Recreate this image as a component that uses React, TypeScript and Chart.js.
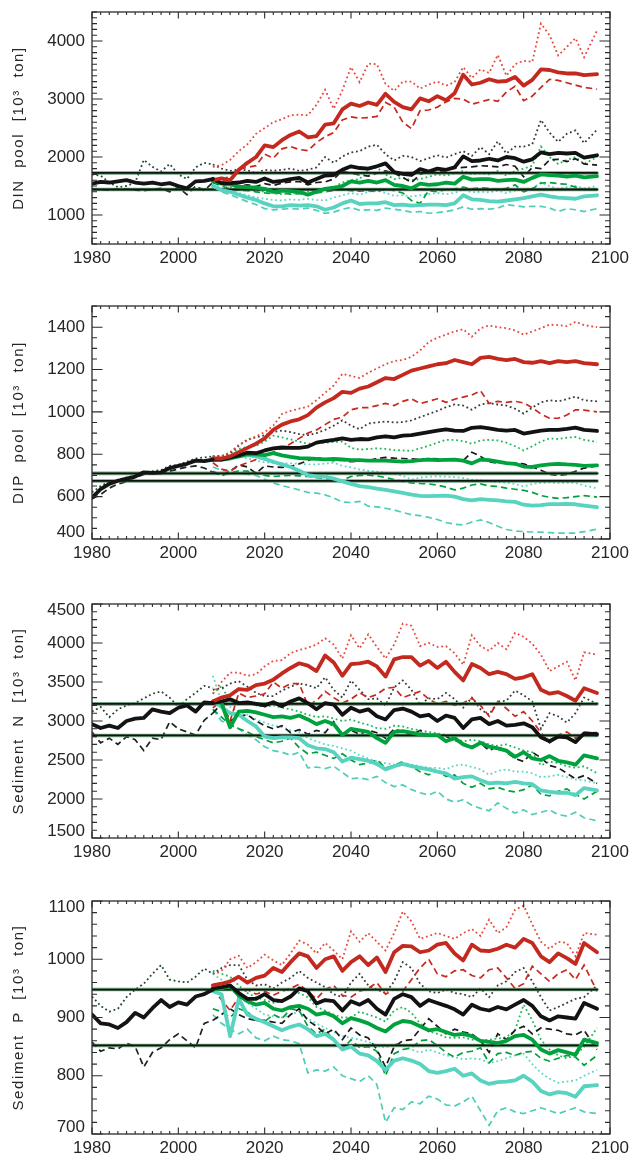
import React, { useEffect, useRef } from "react";
import { Chart, registerables } from "chart.js";

Chart.register(...registerables);

// ---------------- data ----------------
const histYears = [1980, 1982, 1984, 1986, 1988, 1990, 1992, 1994, 1996, 1998, 2000, 2002, 2004, 2006, 2008];
const scenYears = [
  2008, 2010, 2012, 2014, 2016, 2018, 2020, 2022, 2024, 2026, 2028, 2030, 2032, 2034, 2036,
  2038, 2040, 2042, 2044, 2046, 2048, 2050, 2052, 2054, 2056, 2058, 2060, 2062, 2064, 2066,
  2068, 2070, 2072, 2074, 2076, 2078, 2080, 2082, 2084, 2086, 2088, 2090, 2092, 2094, 2097,
];
const refSpan = [1980, 2097];

// DIN pool
const dinHistSolid = [1540, 1570, 1560, 1580, 1600, 1560, 1540, 1560, 1530, 1550, 1500, 1460, 1580, 1590, 1620];
const dinHistDotted = [1700, 1680, 1560, 1480, 1500, 1560, 1950, 1830, 1750, 1880, 1700, 1620, 1820, 1900, 1870];
const dinHistDashed = [1450, 1440, 1430, 1450, 1450, 1430, 1420, 1440, 1460, 1400, 1480, 1350, 1500, 1420, 1560];
const dinRedSolid = [1600, 1630, 1600, 1780, 1900, 2000, 2200, 2170, 2290, 2380, 2440, 2340, 2360, 2560, 2580, 2820, 2920, 2880, 2940, 2900, 3090, 2950, 2860, 2820, 3010, 2960, 3050, 2980, 3100, 3420, 3250, 3280, 3340, 3300, 3310, 3380, 3230, 3330, 3510, 3500, 3460, 3440, 3440, 3410, 3430];
const dinRedDotted = [1830, 1860, 1950, 2100, 2220, 2400, 2500, 2600, 2650, 2720, 2730, 2720, 2900, 3160, 2830, 3150, 3550, 3290, 3610, 3600, 3260, 3140, 3300, 3300, 3180, 3250, 3300, 3230, 3290, 3550, 3360, 3510, 3450, 3760, 3400, 3600, 3660, 3640, 4300, 4100, 3750, 3900, 4050, 3720, 4180];
const dinRedDashed = [1580, 1560, 1700, 1790, 1820, 1850, 2050, 1980, 2140, 2180, 2130, 2110, 2250, 2350, 2420, 2640, 2690, 2670, 2680, 2700, 2940, 2860, 2600, 2490, 2800, 2810, 2860, 2950, 3010, 3000, 2910, 2950, 2990, 2960, 3120, 3220, 2970, 3050, 3200, 3340, 3320, 3280, 3240, 3200, 3170];
const dinBlackSolid = [1620, 1550, 1550, 1560, 1590, 1570, 1630, 1570, 1590, 1620, 1640, 1560, 1620, 1680, 1690, 1780, 1840, 1810, 1800, 1840, 1890, 1740, 1710, 1690, 1790, 1750, 1800, 1780, 1820, 2010, 1930, 1940, 1970, 1940, 2000, 1980, 1920, 1960, 2080, 2050, 2070, 2060, 2070, 1990, 2030];
const dinBlackDotted = [1870, 1800, 1760, 1790, 1770, 1720, 1780, 1760, 1780, 1800, 1760, 1780, 1820, 2000, 1900, 2010, 2080, 2100, 2180, 2210, 2050, 1940, 2020, 2000, 1930, 1980, 2030, 1990, 2050, 2100, 2020, 2170, 2050, 2270, 2060, 2180, 2180, 2220, 2640, 2420, 2260, 2400, 2460, 2240, 2470];
const dinBlackDashed = [1560, 1520, 1510, 1500, 1520, 1490, 1540, 1510, 1550, 1570, 1580, 1520, 1560, 1570, 1620, 1760, 1720, 1690, 1670, 1720, 1760, 1720, 1650, 1560, 1700, 1750, 1730, 1770, 1810, 1820, 1830, 1850, 1840, 1830, 1870, 1840, 1660, 1820, 1800, 1950, 1960, 1920, 1970, 1880, 1860];
const dinGreenSolid = [1580, 1540, 1530, 1490, 1480, 1470, 1450, 1400, 1420, 1410, 1400, 1350, 1400, 1450, 1470, 1500, 1580, 1560, 1590, 1560, 1600, 1520, 1500, 1460, 1540, 1520, 1530, 1560, 1540, 1660, 1610, 1620, 1620, 1590, 1600, 1610, 1570, 1640, 1700, 1690, 1680, 1660, 1680, 1650, 1670];
const dinGreenDotted = [1600, 1550, 1480, 1470, 1450, 1420, 1400, 1380, 1360, 1380, 1370, 1400, 1420, 1450, 1480, 1560, 1600, 1620, 1780, 1820, 1700, 1620, 1640, 1600, 1620, 1660, 1700, 1680, 1720, 1760, 1700, 1720, 1700, 1760, 1680, 1760, 1800, 1850, 2180, 2000, 1880, 1950, 2000, 1880, 2000];
const dinGreenDashed = [1560, 1500, 1450, 1430, 1420, 1400, 1380, 1370, 1380, 1360, 1370, 1340, 1380, 1400, 1420, 1440, 1420, 1410, 1420, 1400, 1450, 1420, 1380, 1250, 1200, 1420, 1400, 1440, 1450, 1480, 1450, 1470, 1460, 1440, 1460, 1520, 1400, 1450, 1550, 1560, 1540, 1530, 1480, 1440, 1440];
const dinTurqSolid = [1500, 1430, 1400, 1350, 1300, 1260, 1200, 1150, 1150, 1170, 1160, 1170, 1150, 1090, 1130, 1200, 1250, 1190, 1200, 1200, 1220, 1170, 1180, 1160, 1170, 1180, 1180, 1170, 1200, 1340, 1270, 1260, 1240, 1230, 1250, 1270, 1290, 1320, 1350, 1320, 1300, 1290, 1280, 1320, 1340];
const dinTurqDotted = [1520, 1460, 1420, 1380, 1340, 1300, 1280, 1260, 1250, 1270, 1260, 1280, 1260, 1250, 1300, 1340, 1380, 1350, 1400, 1420, 1380, 1330, 1340, 1320, 1340, 1360, 1380, 1360, 1380, 1440, 1390, 1400, 1390, 1420, 1380, 1420, 1440, 1460, 1560, 1500, 1450, 1480, 1500, 1460, 1500];
const dinTurqDashed = [1480, 1400, 1350, 1290, 1230, 1180, 1110, 1090, 1100, 1110, 1100, 1120, 1080, 1030, 1050, 1100, 1130, 1080, 1090, 1080, 1120, 1100, 1080, 1050, 1060, 1030, 1040, 1060, 1090, 1140, 1100, 1110, 1100, 1120, 1180, 1160, 1140, 1150, 1150, 1120, 1060, 1110, 1090, 1060, 1110];
const dinRefLines = [1725, 1440];
const dinYTicks = [1000, 2000, 3000, 4000];

// DIP pool
const dipHistSolid = [595, 635, 660, 675, 685, 695, 715, 712, 715, 735, 745, 755, 770, 768, 775];
const dipHistDotted = [620, 650, 670, 680, 690, 700, 715, 720, 725, 745, 750, 765, 780, 785, 790];
const dipHistDashed = [590, 610, 640, 660, 670, 690, 705, 710, 710, 720, 730, 740, 745, 735, 715];
const dipRedSolid = [780, 780, 790, 810, 830, 850, 875, 915, 940, 955, 965, 985, 1020, 1045, 1065, 1095, 1090, 1110, 1120, 1140, 1160, 1155, 1175, 1195, 1205, 1215, 1225, 1230, 1245, 1235, 1225, 1255, 1260, 1250, 1245, 1250, 1235, 1232, 1240, 1230, 1240, 1235, 1240, 1230, 1225];
const dipRedDotted = [790, 790, 810, 845, 865, 885, 905, 935, 990, 1005, 1015, 1025, 1055, 1090, 1125, 1180, 1170, 1160, 1185, 1205, 1225, 1240, 1245, 1260, 1290, 1330, 1350, 1365, 1380, 1390, 1355, 1395, 1408, 1400, 1395, 1385, 1365, 1380, 1395, 1412, 1410, 1405, 1425, 1410, 1400];
const dipRedDashed = [760, 730, 720, 745, 760, 775, 780, 810, 830, 850, 875, 900, 915, 940, 965, 975, 1010, 1020, 1020, 1030, 1040, 1030, 1050, 1062, 1040, 1050, 1062, 1045, 1060, 1070, 1080, 1100, 1040, 1050, 1045, 1050, 1042, 1020, 990, 970, 970, 985, 1010, 1008, 1000];
const dipBlackSolid = [775, 775, 785, 795, 808, 805, 818, 828, 832, 830, 830, 836, 855, 862, 868, 875, 868, 872, 870, 880, 885, 880, 888, 890, 898, 905, 912, 918, 912, 910, 925, 928, 922, 915, 912, 915, 898, 905, 912, 915, 915, 920, 926, 915, 910];
const dipBlackDotted = [790, 792, 805, 840, 870, 880, 890, 905, 912, 905, 895, 890, 900, 915, 935, 960, 935, 918, 945, 950, 955, 950, 952, 960, 975, 990, 1005, 1022, 1035, 1030, 1010, 1035, 1042, 1035, 1030, 1015, 992, 1020, 1045, 1055, 1050, 1060, 1072, 1055, 1050];
const dipBlackDashed = [715, 700, 720, 750, 740, 710, 745, 740, 738, 742, 755, 770, 785, 775, 770, 772, 765, 768, 770, 780, 785, 782, 780, 778, 776, 780, 778, 775, 778, 770, 810, 790, 765, 758, 760, 757, 755, 740, 725, 705, 700, 705, 720, 735, 745];
const dipGreenSolid = [775, 775, 780, 790, 800, 800, 796, 805, 795, 788, 782, 780, 778, 776, 778, 776, 772, 772, 770, 770, 770, 768, 765, 768, 772, 775, 772, 774, 775, 770, 757, 775, 772, 765, 758, 755, 742, 740, 748, 752, 755, 752, 750, 745, 748];
const dipGreenDotted = [790, 792, 805, 825, 835, 840, 860, 888, 880, 870, 860, 850, 852, 855, 858, 860, 830, 822, 825, 828, 825, 820, 818, 816, 828, 840, 855, 868, 868, 862, 850, 865, 868, 865, 855, 838, 818, 838, 860, 875, 872, 878, 882, 868, 858];
const dipGreenDashed = [720, 700, 710, 722, 720, 712, 700, 695, 698, 700, 698, 695, 690, 686, 680, 678, 695, 700, 702, 698, 690, 680, 672, 665, 662, 660, 655, 645, 632, 640, 655, 660, 650, 648, 640, 635, 630, 620, 605, 597, 592, 595, 600, 605, 598];
const dipTurqSolid = [775, 778, 785, 790, 796, 790, 778, 765, 752, 740, 722, 702, 696, 694, 685, 672, 660, 650, 645, 638, 632, 625, 618, 610, 604, 602, 604, 605, 600, 588, 582, 588, 585, 582, 578, 575, 562, 558, 560, 565, 565, 566, 564, 558, 550];
const dipTurqDotted = [790, 790, 795, 790, 780, 770, 762, 760, 758, 757, 755, 752, 752, 756, 760, 745, 738, 728, 722, 718, 712, 708, 698, 680, 690, 694, 696, 694, 692, 688, 680, 678, 674, 668, 666, 660, 648, 660, 665, 666, 664, 665, 665, 652, 640];
const dipTurqDashed = [740, 725, 718, 712, 706, 700, 682, 665, 652, 642, 632, 620, 617, 608, 594, 575, 572, 578, 555, 552, 545, 537, 525, 515, 510, 502, 492, 478, 470, 466, 480, 490, 478, 460, 445, 438, 435, 433, 432, 430, 428, 428, 428, 435, 446];
const dipRefLines = [710, 674];
const dipYTicks = [400, 600, 800, 1000, 1200, 1400];

// Sediment N
const sedNHistSolid = [2960, 2910, 2940, 2910, 3000, 3030, 3040, 3150, 3120, 3100, 3170, 3200, 3120, 3240, 3230];
const sedNHistDotted = [3120, 3180, 3050, 3150, 3200, 3230, 3290, 3350, 3380, 3300, 3180, 3280, 3360, 3450, 3420];
const sedNHistDashed = [2860, 2720, 2780, 2700, 2800, 2760, 2620, 2780, 2760, 2990, 2900, 2860, 2820, 3010, 3100];
const sedNRedSolid = [3250, 3300, 3330, 3410, 3400, 3460, 3480, 3530, 3610, 3680, 3740, 3710, 3640, 3840, 3750, 3580, 3730, 3740, 3760, 3700, 3570, 3790, 3820, 3820, 3710, 3770, 3680, 3760, 3630, 3520, 3730, 3680, 3600, 3630, 3600, 3540, 3560, 3600, 3400, 3350, 3370, 3320, 3260, 3420, 3360];
const sedNRedDotted = [3350, 3500, 3620, 3620, 3580, 3600, 3700, 3770, 3780, 3870, 3910, 3940, 3980, 4060, 3980, 3800, 4100, 3930, 4110, 3950, 3800, 3980, 4250, 4220, 3960, 4000, 3950, 3960, 3870, 3720, 4100, 3960, 3900, 4000, 3920, 4130, 4080, 3990, 3850, 3640, 3700, 3760, 3520, 3880, 3850];
const sedNRedDashed = [3170, 3250, 3000, 3360, 3300, 3320, 3350, 3500, 3420, 3480, 3480, 3200, 3260, 3380, 3300, 3230, 3280, 3360, 3300, 3340, 3420, 3430, 3300, 3340, 3380, 3280, 3220, 3250, 3200, 3230, 3290, 3200, 3060, 3250, 3160, 3060, 3120, 3000, 2850, 2720, 2820, 2860, 2780, 2850, 2850];
const sedNBlackSolid = [3230, 3250, 3280, 3230, 3240, 3220, 3200, 3240, 3190, 3250, 3290, 3230, 3150, 3230, 3210, 3080, 3170, 3120, 3150, 3060, 3020, 3140, 3160, 3120, 3060, 3080, 3000, 3070, 3040, 2910, 3020, 3040, 2960, 3000, 2940, 2950, 2970, 2920, 2790, 2740, 2800, 2790, 2730, 2840, 2830];
const sedNBlackDotted = [3400, 3420, 3480, 3510, 3440, 3360, 3320, 3320, 3390, 3440, 3480, 3460, 3420, 3560, 3400, 3300, 3520, 3400, 3280, 3290, 3200, 3430, 3520, 3400, 3210, 3290, 3280, 3360, 3280, 3170, 3300, 3150, 3080, 3250, 3260, 3390, 3330, 3250, 2900, 3100, 3060, 2980, 3100, 3300, 3220];
const sedNBlackDashed = [3100, 3220, 3000, 3060, 3080, 3000, 2940, 2900, 2940, 2850, 2890, 2830, 2880, 2850, 2990, 2820, 2880, 2830, 2880, 2850, 2780, 2900, 2860, 2820, 2880, 2820, 2820, 2800, 2750, 2720, 2650, 2720, 2620, 2680, 2600, 2520, 2480, 2600, 2530, 2430, 2400, 2330, 2260, 2300, 2200];
const sedNGreenSolid = [3250, 3230, 2920, 3120, 3130, 3110, 3080, 3050, 3060, 3040, 3070, 3020, 2960, 3000, 2960, 2820, 2900, 2880, 2860, 2780, 2720, 2860, 2870, 2850, 2830, 2820, 2820, 2740, 2780, 2700, 2660, 2720, 2670, 2650, 2620, 2540, 2600, 2520, 2500, 2550, 2490, 2470, 2440, 2560, 2520];
const sedNGreenDotted = [3350, 3450, 3250, 3220, 3230, 3200, 3180, 3200, 3170, 3150, 3120, 3080, 3050, 3060, 3030, 3000, 3020, 2980, 2950, 2910, 2900, 2940, 2930, 2900, 2880, 2860, 2840, 2820, 2780, 2740, 2760, 2740, 2700, 2680, 2700, 2660, 2620, 2600, 2430, 2480, 2460, 2420, 2400, 2420, 2330];
const sedNGreenDashed = [3150, 3050, 2950, 2900, 2860, 2800, 2760, 2720, 2740, 2780, 2660, 2580, 2600, 2560, 2520, 2580, 2500, 2440, 2460, 2500, 2400, 2430, 2480, 2420, 2350, 2310, 2360, 2290, 2310, 2200, 2150, 2200, 2130, 2150, 2110, 2090, 2120, 2180, 2060, 2040, 2100, 2130, 2060, 2000, 2100];
const sedNTurqSolid = [3250, 3180, 3100, 3080, 3000, 2930, 2800, 2780, 2790, 2790, 2780, 2690, 2650, 2640, 2600, 2480, 2530, 2510, 2490, 2450, 2380, 2420, 2450, 2420, 2400, 2380, 2350, 2330, 2260, 2280, 2290, 2240, 2200, 2210, 2200, 2220, 2200, 2190, 2110, 2090, 2080, 2080, 2050, 2140, 2110];
const sedNTurqDotted = [3580, 3250, 3180, 3120, 3080, 3020, 2980, 2940, 2920, 2880, 2860, 2780, 2740, 2700, 2680, 2650, 2620, 2560, 2520, 2480, 2460, 2440, 2450, 2440, 2420, 2400, 2400, 2380, 2430, 2440, 2410, 2380, 2310, 2360, 2380, 2350, 2350, 2330, 2280, 2290, 2310, 2280, 2250, 2240, 2200];
const sedNTurqDashed = [3150, 3000, 2960, 2900, 2820, 2760, 2670, 2620, 2600, 2560, 2600, 2400, 2410, 2390, 2420, 2340, 2260, 2270, 2250, 2290, 2210, 2160, 2180, 2120, 2080, 2050, 2100, 2000, 1960, 1990, 1920, 1880, 1850, 1950, 1880, 1820, 1860, 1800, 1830, 1860, 1800, 1780, 1830, 1760, 1720];
const sedNRefLines = [3220, 2815];
const sedNYTicks = [1500, 2000, 2500, 3000, 3500, 4000, 4500];

// Sediment P
const sedPHistSolid = [905, 890, 888, 882, 892, 908, 900, 916, 930, 918, 926, 922, 936, 940, 948];
const sedPHistDotted = [936, 920, 910, 915, 935, 948, 958, 975, 990, 965, 962, 960, 970, 984, 975];
const sedPHistDashed = [858, 842, 848, 846, 856, 850, 815, 840, 848, 862, 872, 860, 848, 890, 895];
const sedPRedSolid = [955, 958, 962, 970, 960, 968, 972, 985, 978, 995, 1010, 1005, 985, 1000, 1005, 980, 995, 1005, 990, 1003, 978, 1012, 1023, 1022, 1012, 1015, 1025, 1028, 1010, 998, 1025, 1015, 1014, 1018, 1025, 1020, 1035, 1028, 1005, 995, 1010, 1002, 992, 1028, 1012];
const sedPRedDotted = [975, 980, 1000, 1006, 985, 995, 1008, 998, 990, 1010, 1032, 1025, 1010, 1028, 1015, 1000, 1048, 1030, 1045, 1030, 1015, 1045, 1082, 1065, 1035, 1040, 1045, 1040, 1035, 1045, 1052, 1040, 1068, 1045, 1055, 1085, 1092, 1060, 1030, 1018, 1030, 1028, 1005, 1045, 1042];
const sedPRedDashed = [950, 930, 912, 935, 948, 940, 945, 938, 945, 950, 957, 945, 932, 948, 955, 938, 935, 945, 950, 960, 940, 948, 945, 965, 985, 1000, 975, 970, 980, 982, 972, 968, 982, 985, 968, 950, 958, 988, 975, 962, 975, 982, 965, 990, 945];
const sedPBlackSolid = [950, 952, 955, 942, 932, 932, 940, 930, 928, 936, 950, 945, 924, 930, 928, 912, 928, 922, 930, 915, 905, 932, 940, 935, 920, 930, 925, 920, 914, 905, 922, 915, 912, 918, 914, 922, 930, 920, 902, 895, 902, 900, 898, 925, 915];
const sedPBlackDotted = [975, 985, 990, 990, 965, 955, 957, 950, 960, 968, 980, 968, 960, 952, 940, 935, 960, 975, 955, 948, 942, 962, 995, 985, 958, 945, 942, 948, 942, 940, 935, 950, 935, 955, 962, 978, 985, 962, 935, 912, 918, 925, 932, 935, 955];
const sedPBlackDashed = [895, 905, 915, 905, 898, 895, 895, 892, 890, 905, 915, 895, 885, 872, 880, 862, 882, 870, 865, 845, 815, 850, 860, 862, 880, 898, 885, 872, 880, 875, 872, 860, 840, 872, 862, 878, 885, 872, 882, 880, 878, 872, 870, 878, 845];
const sedPGreenSolid = [948, 950, 954, 938, 928, 922, 925, 915, 912, 918, 920, 915, 905, 908, 902, 890, 899, 895, 890, 882, 876, 888, 894, 892, 885, 878, 880, 875, 870, 872, 868, 860, 858, 856, 860, 868, 870, 862, 845, 838, 844, 840, 836, 862, 856];
const sedPGreenDotted = [980, 975, 970, 955, 942, 935, 930, 925, 928, 938, 942, 935, 918, 912, 905, 900, 900, 910, 905, 900, 893, 912, 918, 908, 890, 876, 872, 866, 865, 866, 862, 860, 862, 864, 866, 878, 922, 895, 862, 845, 835, 830, 835, 850, 882];
const sedPGreenDashed = [915, 910, 900, 915, 910, 895, 893, 905, 898, 915, 912, 885, 872, 880, 860, 845, 862, 848, 850, 842, 800, 838, 845, 848, 860, 862, 852, 840, 832, 840, 842, 848, 822, 838, 840, 835, 840, 842, 830, 825, 830, 835, 832, 818, 835];
const sedPTurqSolid = [945, 940, 868, 932, 905, 898, 892, 885, 878, 884, 888, 880, 868, 872, 862, 845, 850, 838, 835, 825, 810, 826, 830, 826, 820, 808, 805, 808, 812, 800, 804, 792, 786, 789, 790, 792, 800, 790, 774, 768, 772, 770, 764, 782, 784];
const sedPTurqDotted = [975, 965, 950, 935, 925, 915, 905, 902, 900, 905, 910, 898, 890, 882, 875, 868, 865, 862, 858, 852, 848, 855, 852, 845, 840, 845, 840, 835, 832, 828, 830, 828, 822, 825, 830, 835, 838, 820, 805, 795, 788, 790, 792, 800, 810];
const sedPTurqDashed = [905, 890, 880, 872, 880, 865, 860, 868, 862, 860, 855, 805, 810, 808, 815, 800, 795, 790, 800, 785, 720, 745, 742, 755, 752, 765, 760, 750, 748, 755, 765, 740, 715, 740, 745, 738, 735, 740, 745, 740, 735, 740, 745, 738, 735];
const sedPRefLines = [948, 852];
const sedPYTicks = [700, 800, 900, 1000, 1100];

// ---------------- styling ----------------
const FONT = '"Liberation Sans", Arial, Helvetica, sans-serif';
const TEXT = "#262626";
const PAD_TOP = 12;
const AX_H = 32;
const AX_W = 92;
const PAD_RIGHT = 24;
const W = 634;

const C = {
  redSolid: "#c3291e",
  redDotted: "#e5493f",
  redDashed: "#c8291f",
  blackSolid: "#121212",
  blackDotted: "#3a3a3a",
  blackDashed: "#1a1a1a",
  greenSolid: "#00a23e",
  greenDotted: "#22b658",
  greenDashed: "#00a03f",
  turqSolid: "#58d3bf",
  turqDotted: "#5fd6c3",
  turqDashed: "#4fcdb7",
  histSolid: "#141414",
  histDotted: "#1f4a2d",
  histDashed: "#16271b",
};

type Style = "solid" | "dotted" | "dashed";

type PanelDef = {
  key: string;
  title: string;
  top: number;
  bottom: number;
  yMin: number;
  yMax: number;
  yTicks: number[];
  minor: number;
  hist: [number[], number[], number[]];
  red: [number[], number[], number[]];
  black: [number[], number[], number[]];
  green: [number[], number[], number[]];
  turq: [number[], number[], number[]];
  refs: number[];
};

const panels: PanelDef[] = [
  {
    key: "din", title: "DIN  pool  [10³  ton]", top: 12, bottom: 244, yMin: 500, yMax: 4500,
    yTicks: dinYTicks, minor: 100,
    hist: [dinHistSolid, dinHistDotted, dinHistDashed],
    red: [dinRedSolid, dinRedDotted, dinRedDashed],
    black: [dinBlackSolid, dinBlackDotted, dinBlackDashed],
    green: [dinGreenSolid, dinGreenDotted, dinGreenDashed],
    turq: [dinTurqSolid, dinTurqDotted, dinTurqDashed],
    refs: dinRefLines,
  },
  {
    key: "dip", title: "DIP  pool  [10³  ton]", top: 306, bottom: 539, yMin: 400, yMax: 1500,
    yTicks: dipYTicks, minor: 50,
    hist: [dipHistSolid, dipHistDotted, dipHistDashed],
    red: [dipRedSolid, dipRedDotted, dipRedDashed],
    black: [dipBlackSolid, dipBlackDotted, dipBlackDashed],
    green: [dipGreenSolid, dipGreenDotted, dipGreenDashed],
    turq: [dipTurqSolid, dipTurqDotted, dipTurqDashed],
    refs: dipRefLines,
  },
  {
    key: "sedN", title: "Sediment  N  [10³  ton]", top: 604, bottom: 838, yMin: 1500, yMax: 4500,
    yTicks: sedNYTicks, minor: 100,
    hist: [sedNHistSolid, sedNHistDotted, sedNHistDashed],
    red: [sedNRedSolid, sedNRedDotted, sedNRedDashed],
    black: [sedNBlackSolid, sedNBlackDotted, sedNBlackDashed],
    green: [sedNGreenSolid, sedNGreenDotted, sedNGreenDashed],
    turq: [sedNTurqSolid, sedNTurqDotted, sedNTurqDashed],
    refs: sedNRefLines,
  },
  {
    key: "sedP", title: "Sediment  P  [10³  ton]", top: 901, bottom: 1134, yMin: 700, yMax: 1100,
    yTicks: sedPYTicks, minor: 20,
    hist: [sedPHistSolid, sedPHistDotted, sedPHistDashed],
    red: [sedPRedSolid, sedPRedDotted, sedPRedDashed],
    black: [sedPBlackSolid, sedPBlackDotted, sedPBlackDashed],
    green: [sedPGreenSolid, sedPGreenDotted, sedPGreenDashed],
    turq: [sedPTurqSolid, sedPTurqDotted, sedPTurqDashed],
    refs: sedPRefLines,
  },
];

function pts(xs: number[], ys: number[]) {
  return xs.map((x, i) => ({ x, y: ys[i] }));
}

function lineDs(label: string, xs: number[], ys: number[], color: string, style: Style, width?: number) {
  const base: any = {
    type: "line",
    label,
    data: pts(xs, ys),
    borderColor: color,
    backgroundColor: color,
    pointRadius: 0,
    pointHoverRadius: 0,
    fill: false,
    tension: 0,
  };
  if (style === "solid") {
    base.borderWidth = width ?? 3.8;
    base.borderJoinStyle = "round";
    base.borderCapStyle = "round";
  } else if (style === "dotted") {
    base.borderWidth = width ?? 1.8;
    base.borderDash = [1.8, 2.8];
    base.borderCapStyle = "butt";
  } else {
    base.borderWidth = width ?? 1.7;
    base.borderDash = [6.5, 4];
    base.borderCapStyle = "butt";
  }
  return base;
}

function buildDatasets(p: PanelDef) {
  const list: any[] = [
    lineDs("turq dashed", scenYears, p.turq[2], C.turqDashed, "dashed"),
    lineDs("turq dotted", scenYears, p.turq[1], C.turqDotted, "dotted"),
    lineDs("green dashed", scenYears, p.green[2], C.greenDashed, "dashed"),
    lineDs("green dotted", scenYears, p.green[1], C.greenDotted, "dotted"),
    lineDs("black dashed", scenYears, p.black[2], C.blackDashed, "dashed"),
    lineDs("black dotted", scenYears, p.black[1], C.blackDotted, "dotted"),
    lineDs("red dashed", scenYears, p.red[2], C.redDashed, "dashed"),
    lineDs("red dotted", scenYears, p.red[1], C.redDotted, "dotted"),
    lineDs("hist dashed", histYears, p.hist[2], C.histDashed, "dashed"),
    lineDs("hist dotted", histYears, p.hist[1], C.histDotted, "dotted"),
  ];
  p.refs.forEach((v, i) => {
    list.push(lineDs("ref halo " + i, refSpan, [v, v], "rgba(70,130,85,0.75)", "solid", 3.6));
    list.push(lineDs("ref " + i, refSpan, [v, v], "#0c160e", "solid", 1.8));
  });
  list.push(
    lineDs("turq solid", scenYears, p.turq[0], C.turqSolid, "solid"),
    lineDs("green solid", scenYears, p.green[0], C.greenSolid, "solid"),
    lineDs("black solid", scenYears, p.black[0], C.blackSolid, "solid"),
    lineDs("red solid", scenYears, p.red[0], C.redSolid, "solid"),
    lineDs("hist solid", histYears, p.hist[0], C.histSolid, "solid"),
  );
  const n = list.length;
  list.forEach((d, i) => (d.order = n - i));
  return list;
}

function idlAxesPlugin(p: PanelDef) {
  return {
    id: "idlAxes_" + p.key,
    afterDraw(chart: any) {
      const { ctx, chartArea: a, scales } = chart;
      const xs = scales.x;
      const ys = scales.y;
      ctx.save();
      // frame
      ctx.strokeStyle = "#2b2b2b";
      ctx.lineWidth = 1.3;
      ctx.strokeRect(a.left, a.top, a.right - a.left, a.bottom - a.top);
      // x ticks (inward, bottom + top)
      ctx.lineWidth = 1.1;
      for (let yr = 1980; yr <= 2100; yr += 2) {
        const px = xs.getPixelForValue(yr);
        const len = yr % 20 === 0 ? 6.5 : 3;
        ctx.beginPath();
        ctx.moveTo(px, a.bottom);
        ctx.lineTo(px, a.bottom - len);
        ctx.moveTo(px, a.top);
        ctx.lineTo(px, a.top + len);
        ctx.stroke();
      }
      // y ticks (inward, left + right)
      for (let v = p.yMin; v <= p.yMax + 1e-6; v += p.minor) {
        const py = ys.getPixelForValue(v);
        const len = p.yTicks.includes(v) ? 10.5 : 5;
        ctx.beginPath();
        ctx.moveTo(a.left, py);
        ctx.lineTo(a.left + len, py);
        ctx.moveTo(a.right, py);
        ctx.lineTo(a.right - len, py);
        ctx.stroke();
      }
      // y labels
      ctx.fillStyle = TEXT;
      ctx.font = `17px ${FONT}`;
      ctx.textAlign = "right";
      ctx.textBaseline = "middle";
      p.yTicks.forEach((v) => {
        let py = ys.getPixelForValue(v);
        py = Math.max(a.top + 6.5, Math.min(a.bottom - 6.5, py));
        ctx.fillText(String(v), a.left - 7, py);
      });
      // y title
      ctx.translate(19, (a.top + a.bottom) / 2);
      ctx.rotate(-Math.PI / 2);
      ctx.font = `15px ${FONT}`;
      try {
        (ctx as any).letterSpacing = "1.6px";
      } catch (e) {}
      ctx.textAlign = "center";
      ctx.textBaseline = "middle";
      ctx.fillText(p.title, 0, 0);
      ctx.restore();
    },
  };
}

function PanelChart({ p }: { p: PanelDef }) {
  const ref = useRef<HTMLCanvasElement | null>(null);
  const h = p.bottom - p.top + PAD_TOP + AX_H;
  useEffect(() => {
    const canvas = ref.current;
    if (!canvas) return;
    const chart = new Chart(canvas, {
      type: "line",
      data: { datasets: buildDatasets(p) },
      options: {
        responsive: false,
        animation: false,
        devicePixelRatio: 1,
        layout: { padding: { top: PAD_TOP, right: PAD_RIGHT, left: 0, bottom: 0 } },
        plugins: { legend: { display: false }, tooltip: { enabled: false } },
        events: [],
        scales: {
          x: {
            type: "linear",
            min: 1980,
            max: 2100,
            grid: { display: false, drawTicks: false },
            border: { display: false },
            ticks: {
              stepSize: 20,
              autoSkip: false,
              maxRotation: 0,
              padding: 4,
              color: TEXT,
              font: { family: FONT, size: 17 },
              callback: (v: any) => String(v),
            },
            afterFit: (s: any) => {
              s.height = AX_H;
            },
          },
          y: {
            type: "linear",
            min: p.yMin,
            max: p.yMax,
            grid: { display: false, drawTicks: false },
            border: { display: false },
            ticks: { display: false },
            afterFit: (s: any) => {
              s.width = AX_W;
            },
          },
        },
      } as any,
      plugins: [idlAxesPlugin(p)],
    });
    return () => chart.destroy();
  }, [p]);
  return (
    <div style={{ position: "absolute", left: 0, top: p.top - PAD_TOP, width: W, height: h }}>
      <canvas ref={ref} width={W} height={h} style={{ width: W, height: h, display: "block" }} />
    </div>
  );
}

export default function App() {
  return (
    <div style={{ position: "absolute", left: 0, top: 0, width: W, height: 1161, background: "#ffffff" }}>
      {panels.map((p) => (
        <PanelChart key={p.key} p={p} />
      ))}
    </div>
  );
}
